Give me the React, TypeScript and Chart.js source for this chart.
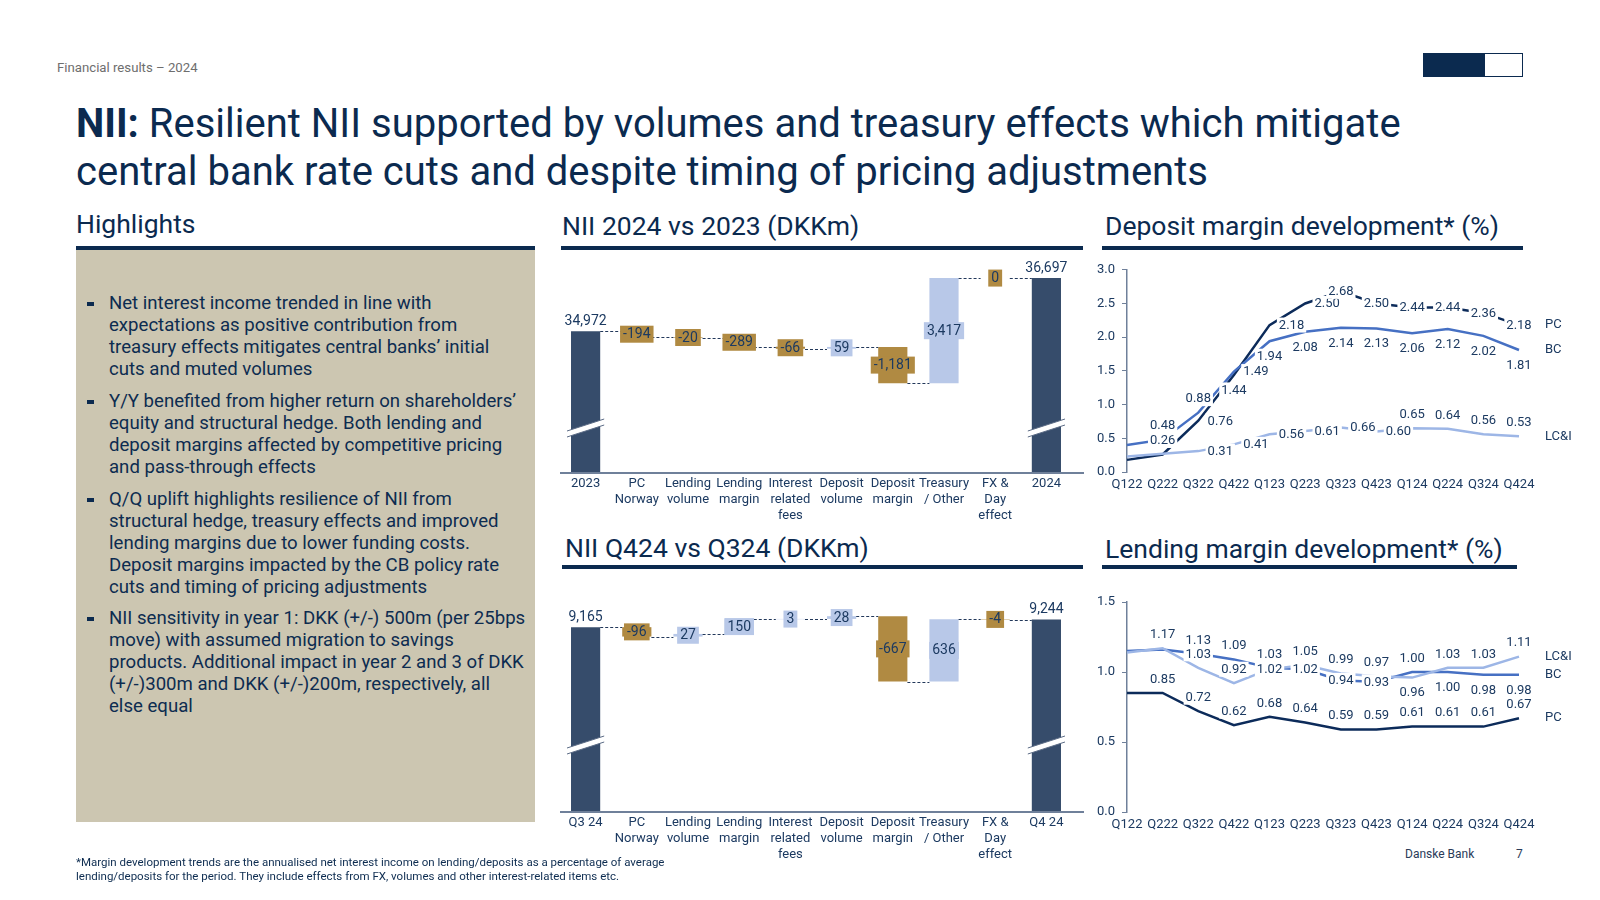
import React, { useEffect, useRef } from 'react';
import { Chart, registerables } from 'chart.js';

Chart.register(...registerables);

const FONT = 'Roboto, "Noto Sans", "DejaVu Sans", sans-serif';
Chart.defaults.font.family = FONT;

const NAVY = '#0b2a4f';
const TEXT = '#1c3a61';
const TOTAL_COLOR = '#364c6b';
const DOWN_COLOR = '#b08a42';
const UP_COLOR = '#b8c8e8';
const AXIS_COLOR = '#6f809a';
const PC_COLOR = '#0c2b5a';
const BC_COLOR = '#4670c3';
const LCI_COLOR = '#9db6e6';

// ---------------- data ----------------
const waterfallSteps = [
  ['PC', 'Norway'],
  ['Lending', 'volume'],
  ['Lending', 'margin'],
  ['Interest', 'related', 'fees'],
  ['Deposit', 'volume'],
  ['Deposit', 'margin'],
  ['Treasury', '/ Other'],
  ['FX &', 'Day', 'effect'],
];

const yearCategories = [['2023'], ...waterfallSteps, ['2024']];
const yearOpening = 34972;
const yearChanges = [-194, -20, -289, -66, 59, -1181, 3417, 0];
const yearClosing = 36697;

const quarterCategories = [['Q3 24'], ...waterfallSteps, ['Q4 24']];
const quarterOpening = 9165;
const quarterChanges = [-96, 27, 150, 3, 28, -667, 636, -4];
const quarterClosing = 9244;

const marginQuarters = ['Q122', 'Q222', 'Q322', 'Q422', 'Q123', 'Q223', 'Q323', 'Q423', 'Q124', 'Q224', 'Q324', 'Q424'];

const depositPC = [0.18, 0.26, 0.76, 1.44, 2.18, 2.5, 2.68, 2.5, 2.44, 2.44, 2.36, 2.18];
const depositBC = [0.4, 0.48, 0.88, 1.49, 1.94, 2.08, 2.14, 2.13, 2.06, 2.12, 2.02, 1.81];
const depositLCI = [0.23, 0.27, 0.31, 0.41, 0.56, 0.61, 0.66, 0.6, 0.65, 0.64, 0.56, 0.53];

const lendingPC = [0.85, 0.85, 0.72, 0.62, 0.68, 0.64, 0.59, 0.59, 0.61, 0.61, 0.61, 0.67];
const lendingBC = [1.15, 1.16, 1.13, 1.09, 1.03, 1.02, 0.94, 0.93, 1.0, 1.0, 0.98, 0.98];
const lendingLCI = [1.14, 1.17, 1.03, 0.92, 1.02, 1.05, 0.99, 0.97, 0.96, 1.03, 1.03, 1.11];

// label placement (style): n = none, c = centred, a = above, b = below, r = right
const depositPCAnchors = ['n', 'a', 'r', 'b', 'r', 'r', 'c', 'c', 'c', 'c', 'c', 'c'];
const depositBCAnchors = ['n', 'a', 'a', 'r', 'b', 'b', 'b', 'b', 'b', 'b', 'b', 'b'];
const depositLCIAnchors = ['n', 'n', 'r', 'r', 'r', 'r', 'r', 'r', 'a', 'a', 'a', 'a'];
const lendingPCAnchors = ['n', 'a', 'a', 'a', 'a', 'a', 'a', 'a', 'a', 'a', 'a', 'a'];
const lendingBCAnchors = ['n', 'n', 'a', 'a', 'a', 'c', 'c', 'c', 'a', 'b', 'b', 'b'];
const lendingLCIAnchors = ['n', 'a', 'a', 'a', 'c', 'a', 'a', 'a', 'b', 'a', 'a', 'a'];

const highlights = [
  [
    'Net interest income trended in line with',
    'expectations as positive contribution from',
    'treasury effects mitigates central banks\u2019 initial',
    'cuts and muted volumes',
  ],
  [
    'Y/Y benefited from higher return on shareholders\u2019',
    'equity and structural hedge. Both lending and',
    'deposit margins affected by competitive pricing',
    'and pass-through effects',
  ],
  [
    'Q/Q uplift highlights resilience of NII from',
    'structural hedge, treasury effects and improved',
    'lending margins due to lower funding costs.',
    'Deposit margins impacted by the CB policy rate',
    'cuts and timing of pricing adjustments',
  ],
  [
    'NII sensitivity in year 1: DKK (+/-) 500m (per 25bps',
    'move) with assumed migration to savings',
    'products. Additional impact in year 2 and 3 of DKK',
    '(+/-)300m and DKK (+/-)200m, respectively, all',
    'else equal',
  ],
];

const fmt = (v: number) => v.toLocaleString('en-US');

// ---------------- plugins ----------------
const waterfallPlugin = {
  id: 'waterfallDecor',
  afterDatasetsDraw(chart: any, _args: any, opts: any) {
    const { ctx, chartArea } = chart;
    const meta = chart.getDatasetMeta(0);
    const ds = chart.data.datasets[0];
    const yScale = chart.scales.y;
    const n = meta.data.length;
    ctx.save();
    // base line
    ctx.strokeStyle = AXIS_COLOR;
    ctx.lineWidth = 2;
    ctx.beginPath();
    ctx.moveTo(chartArea.left, chartArea.bottom + 1);
    ctx.lineTo(chartArea.right + opts.axisExtend, chartArea.bottom + 1);
    ctx.stroke();
    // connectors
    ctx.setLineDash([3, 2]);
    ctx.lineWidth = 1;
    ctx.strokeStyle = '#22385a';
    for (let i = 0; i < n - 1; i++) {
      const bar = meta.data[i];
      const next = meta.data[i + 1];
      const raw = ds.data[i];
      const level = Array.isArray(raw) ? raw[1] : raw;
      const py = Math.round(yScale.getPixelForValue(level)) + 0.5;
      ctx.beginPath();
      ctx.moveTo(bar.x + bar.width / 2, py);
      ctx.lineTo(next.x - next.width / 2, py);
      ctx.stroke();
    }
    ctx.setLineDash([]);
    // axis breaks on totals
    [0, n - 1].forEach((i) => {
      const bar = meta.data[i];
      const yc = chartArea.bottom - opts.breakOffset;
      const L = bar.x - bar.width / 2 - 4;
      const R = bar.x + bar.width / 2 + 4;
      const s = 6;
      const t = 3;
      ctx.fillStyle = '#ffffff';
      ctx.beginPath();
      ctx.moveTo(L, yc + s + t);
      ctx.lineTo(R, yc - s + t);
      ctx.lineTo(R, yc - s - t);
      ctx.lineTo(L, yc + s - t);
      ctx.closePath();
      ctx.fill();
      ctx.strokeStyle = '#5b6b85';
      ctx.lineWidth = 1;
      ctx.beginPath();
      ctx.moveTo(L, yc + s + t);
      ctx.lineTo(R, yc - s + t);
      ctx.moveTo(L, yc + s - t);
      ctx.lineTo(R, yc - s - t);
      ctx.stroke();
    });
    // labels
    ctx.font = `14px ${FONT}`;
    ctx.textAlign = 'center';
    ctx.textBaseline = 'middle';
    const values: number[] = opts.values;
    for (let i = 0; i < n; i++) {
      const bar = meta.data[i];
      const text = fmt(values[i]);
      if (i === 0 || i === n - 1) {
        ctx.fillStyle = TEXT;
        ctx.fillText(text, bar.x, bar.y - 10);
      } else {
        const w = ctx.measureText(text).width + 6;
        const cy = (bar.y + bar.base) / 2;
        ctx.fillStyle = ds.backgroundColor[i];
        ctx.fillRect(bar.x - w / 2, cy - 8.5, w, 17);
        ctx.fillStyle = TEXT;
        ctx.fillText(text, bar.x, cy + 0.5);
      }
    }
    ctx.restore();
  },
};

const lineLabelsPlugin = {
  id: 'lineLabels',
  afterDatasetsDraw(chart: any) {
    const { ctx, chartArea } = chart;
    ctx.save();
    ctx.font = `13px ${FONT}`;
    ctx.textBaseline = 'middle';
    chart.data.datasets.forEach((ds: any, di: number) => {
      const meta = chart.getDatasetMeta(di);
      ctx.textAlign = 'center';
      meta.data.forEach((pt: any, i: number) => {
        const a = ds.labelAnchors[i];
        if (a === 'n') return;
        let x = pt.x;
        let y = pt.y;
        if (a === 'a') y -= 14;
        else if (a === 'b') y += 15;
        else if (a === 'r') x += 22;
        const text = Number(ds.data[i]).toFixed(2);
        const w = ctx.measureText(text).width + 4;
        ctx.fillStyle = '#ffffff';
        ctx.fillRect(x - w / 2, y - 7.5, w, 15);
        ctx.fillStyle = TEXT;
        ctx.fillText(text, x, y + 0.5);
      });
    });
    chart.data.datasets.forEach((ds: any, di: number) => {
      const meta = chart.getDatasetMeta(di);
      const last = meta.data[meta.data.length - 1];
      ctx.textAlign = 'left';
      ctx.fillStyle = TEXT;
      ctx.fillText(ds.label, chartArea.right + 26, last.y);
    });
    ctx.restore();
  },
};

// ---------------- configs ----------------
function waterfallConfig(
  categories: string[][],
  opening: number,
  changes: number[],
  closing: number,
  yMin: number,
  yMax: number,
  breakOffset: number,
  padding: any
) {
  const data: any[] = [opening];
  const colors: string[] = [TOTAL_COLOR];
  let level = opening;
  changes.forEach((c) => {
    data.push([level, level + c]);
    colors.push(c > 0 ? UP_COLOR : DOWN_COLOR);
    level += c;
  });
  data.push(closing);
  colors.push(TOTAL_COLOR);
  return {
    type: 'bar',
    data: {
      labels: categories,
      datasets: [
        {
          data,
          base: yMin,
          backgroundColor: colors,
          borderWidth: 0,
          barPercentage: 0.57,
          categoryPercentage: 1,
        },
      ],
    },
    options: {
      responsive: false,
      animation: false,
      layout: { padding },
      plugins: {
        legend: { display: false },
        tooltip: { enabled: false },
        waterfallDecor: { values: [opening, ...changes, closing], breakOffset, axisExtend: 12 },
      },
      scales: {
        x: {
          grid: { display: false, drawTicks: false },
          border: { display: false },
          ticks: {
            color: TEXT,
            font: { size: 13, lineHeight: '16px' },
            padding: 4,
            maxRotation: 0,
            autoSkip: false,
          },
        },
        y: { display: false, min: yMin, max: yMax },
      },
    },
    plugins: [waterfallPlugin],
  };
}

function marginConfig(series: any[], yMax: number, padding: any) {
  return {
    type: 'line',
    data: {
      labels: marginQuarters,
      datasets: series.map((s) => ({
        label: s.label,
        data: s.data,
        borderColor: s.color,
        backgroundColor: s.color,
        borderWidth: 2.5,
        pointRadius: 0,
        tension: 0,
        fill: false,
        labelAnchors: s.anchors,
      })),
    },
    options: {
      responsive: false,
      animation: false,
      layout: { padding },
      plugins: { legend: { display: false }, tooltip: { enabled: false } },
      scales: {
        x: {
          grid: { display: false, drawTicks: false },
          border: { display: false },
          ticks: {
            color: TEXT,
            font: { size: 13, lineHeight: '15px' },
            padding: 5,
            maxRotation: 0,
            autoSkip: false,
          },
        },
        y: {
          min: 0,
          max: yMax,
          grid: { drawOnChartArea: false, drawTicks: true, tickLength: 5, color: AXIS_COLOR },
          border: { display: true, color: AXIS_COLOR, width: 1.5 },
          ticks: {
            stepSize: 0.5,
            color: TEXT,
            font: { size: 13 },
            padding: 7,
            callback: (v: any) => Number(v).toFixed(1),
          },
          afterFit: (s: any) => {
            s.width = 47;
          },
        },
      },
    },
    plugins: [lineLabelsPlugin],
  };
}

function ChartCanvas({ make, left, top, width, height }: any) {
  const ref = useRef<HTMLCanvasElement>(null);
  useEffect(() => {
    const chart = new Chart(ref.current as HTMLCanvasElement, make());
    return () => chart.destroy();
  }, []);
  return (
    <canvas
      ref={ref}
      width={width}
      height={height}
      style={{ position: 'absolute', left, top, width, height }}
    />
  );
}

const abs = (left: number, top: number, extra: any = {}) => ({
  position: 'absolute' as const,
  left,
  top,
  whiteSpace: 'nowrap' as const,
  ...extra,
});

function Heading({ text, left, centerY, size = 26.5 }: any) {
  return (
    <div style={abs(left, centerY - 16, { fontSize: size, lineHeight: '32px', color: NAVY })}>{text}</div>
  );
}

function Rule({ left, right, top }: any) {
  return <div style={abs(left, top, { width: right - left, height: 4, background: NAVY })} />;
}

export default function App() {
  const paraTops = [292, 390, 488, 607];
  return (
    <div
      style={{
        position: 'absolute',
        left: 0,
        top: 0,
        width: 1600,
        height: 900,
        background: '#ffffff',
        overflow: 'hidden',
        fontFamily: FONT,
      }}
    >
      <div style={abs(57, 61, { fontSize: 13.2, lineHeight: '14px', color: '#6e6e6e' })}>
        Financial results – 2024
      </div>
      <div style={abs(1423, 53, { width: 100, height: 24, border: `1.5px solid ${NAVY}`, boxSizing: 'border-box', background: '#fff' })}>
        <div style={{ width: 61, height: '100%', background: NAVY }} />
      </div>

      <div style={abs(76, 100, { fontSize: 40, lineHeight: '48px', color: NAVY })}>
        <div>
          <span style={{ fontWeight: 700 }}>NII:</span> Resilient NII supported by volumes and treasury effects which mitigate
        </div>
        <div>central bank rate cuts and despite timing of pricing adjustments</div>
      </div>

      <Heading text="Highlights" left={76} centerY={224} />
      <Rule left={76} right={535} top={246} />
      <div style={abs(76, 250, { width: 459, height: 572, background: '#ccc6b1' })} />
      {highlights.map((p, pi) => (
        <div key={pi} style={abs(109, paraTops[pi], { fontSize: 18.6, lineHeight: '22.1px', color: '#0d2c50' })}>
          {p.map((line, li) => (
            <div key={li}>{line}</div>
          ))}
        </div>
      ))}
      {paraTops.map((t, i) => (
        <div key={i} style={abs(87, t + 10, { width: 7, height: 4, background: NAVY })} />
      ))}

      <Heading text="NII 2024 vs 2023 (DKKm)" left={562} centerY={226} />
      <Rule left={561} right={1083} top={246} />
      <Heading text="Deposit margin development* (%)" left={1105} centerY={226} />
      <Rule left={1102} right={1523} top={246} />
      <Heading text="NII Q424 vs Q324 (DKKm)" left={565} centerY={548} />
      <Rule left={562} right={1083} top={565} />
      <Heading text="Lending margin development* (%)" left={1105} centerY={549} />
      <Rule left={1102} right={1517} top={565} />

      <ChartCanvas
        left={550}
        top={255}
        width={545}
        height={273}
        make={() =>
          waterfallConfig(yearCategories, yearOpening, yearChanges, yearClosing, 30400, 37220, 44, {
            left: 10,
            right: 23,
            top: 7,
            bottom: 0,
          })
        }
      />
      <ChartCanvas
        left={550}
        top={580}
        width={545}
        height={287}
        make={() =>
          waterfallConfig(quarterCategories, quarterOpening, quarterChanges, quarterClosing, 7290, 9442, 66, {
            left: 10,
            right: 23,
            top: 20,
            bottom: 0,
          })
        }
      />
      <ChartCanvas
        left={1080}
        top={255}
        width={520}
        height={242}
        make={() =>
          marginConfig(
            [
              { label: 'LC&I', data: depositLCI, color: LCI_COLOR, anchors: depositLCIAnchors },
              { label: 'BC', data: depositBC, color: BC_COLOR, anchors: depositBCAnchors },
              { label: 'PC', data: depositPC, color: PC_COLOR, anchors: depositPCAnchors },
            ],
            3,
            { left: 0, right: 81, top: 13, bottom: 0 }
          )
        }
      />
      <ChartCanvas
        left={1080}
        top={585}
        width={520}
        height={252}
        make={() =>
          marginConfig(
            [
              { label: 'LC&I', data: lendingLCI, color: LCI_COLOR, anchors: lendingLCIAnchors },
              { label: 'BC', data: lendingBC, color: BC_COLOR, anchors: lendingBCAnchors },
              { label: 'PC', data: lendingPC, color: PC_COLOR, anchors: lendingPCAnchors },
            ],
            1.5,
            { left: 0, right: 81, top: 17, bottom: 0 }
          )
        }
      />

      <div style={abs(76, 856, { fontSize: 11.5, lineHeight: '13.5px', color: '#0d2c50' })}>
        <div>
          *Margin development trends are the annualised net interest income on lending/deposits as a percentage of average
        </div>
        <div>lending/deposits for the period. They include effects from FX, volumes and other interest-related items etc.</div>
      </div>
      <div style={abs(1405, 847, { fontSize: 12, lineHeight: '14px', color: '#2a3b58' })}>Danske Bank</div>
      <div style={abs(1516, 847, { fontSize: 12, lineHeight: '14px', color: '#2a3b58' })}>7</div>
    </div>
  );
}
